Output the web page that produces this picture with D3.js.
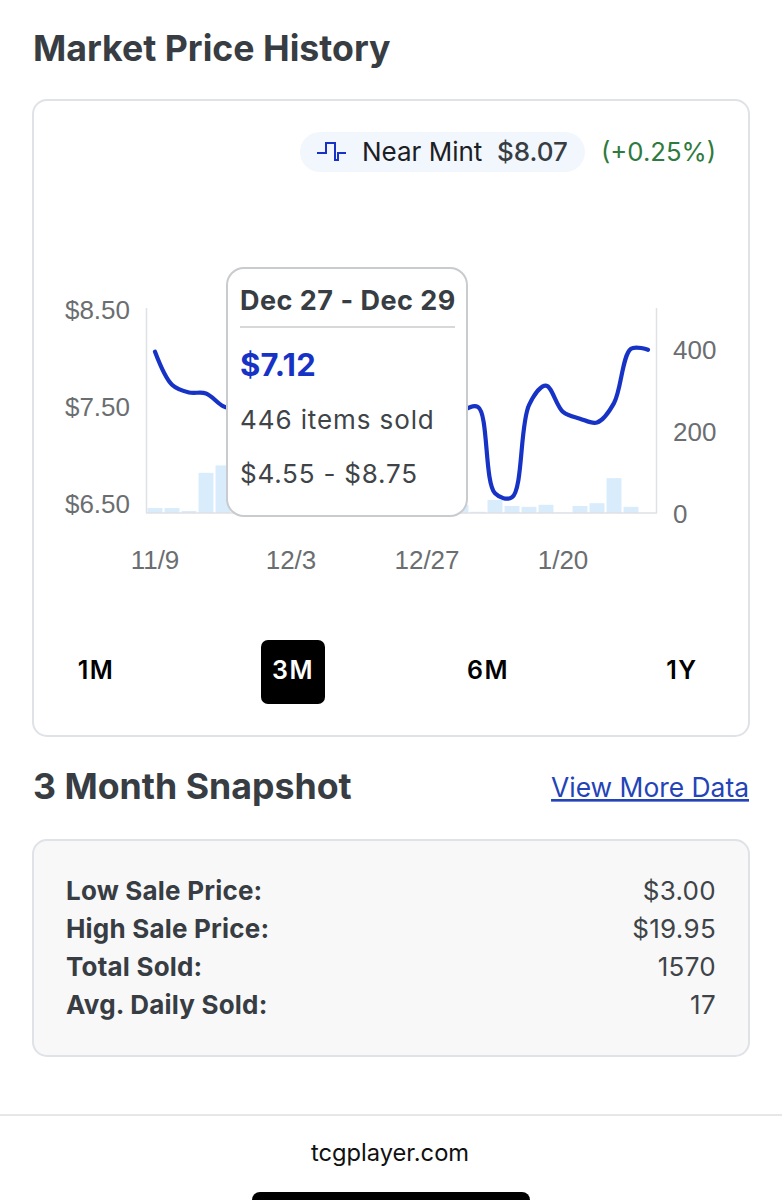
<!DOCTYPE html>
<html>
<head>
<meta charset="utf-8">
<script src="https://cdn.jsdelivr.net/npm/d3@7"></script>
<style>
html, body { margin: 0; padding: 0; background: #fff; }
svg { display: block; }
text { font-family: Inter, "Liberation Sans", sans-serif; }
.axis text { font-family: "Liberation Sans", sans-serif; font-size: 26px; fill: #6b6e71; }
</style>
</head>
<body>
<script>
var width = 782;
var height = 1200;

// 3 day buckets (the ones behind the tooltip are estimates)
var dates = ['11/9','11/12','11/15','11/18','11/21','11/24','11/27','11/30','12/3','12/6',
	'12/9','12/12','12/15','12/18','12/21','12/24','12/27','12/30','1/2','1/5',
	'1/8','1/11','1/14','1/17','1/20','1/23','1/26','1/29','2/1','2/4'];
var prices = [8.07,7.73,7.65,7.64,7.51,7.46,7.42,7.38,7.35,7.30,
	7.28,7.25,7.22,7.20,7.17,7.14,7.12,7.28,7.45,7.50,
	6.61,6.57,7.52,7.72,7.45,7.38,7.34,7.54,8.10,8.09];
var sold = [12,12,5,98,116,70,52,48,40,36,
	44,38,42,30,34,48,446,30,20,3,
	32,17,15,20,1,17,24,85,15,0];
var dateTicks = ['11/9','12/3','12/27','1/20'];
var priceTicks = [6.5,7.5,8.5];
var soldTicks = [0,200,400];
var ranges = ['1M','3M','6M','1Y'];
var snapshotLabels = ['Low Sale Price:','High Sale Price:','Total Sold:','Avg. Daily Sold:'];
var snapshotValues = ['$3.00','$19.95','1570','17'];

var dark = '#373d42';
var blue = '#1733c6';

var svg = d3.select('body').append('svg')
	.attr('width', width)
	.attr('height', height);

function label(x, y, str, size, weight, fill, anchor){
	return svg.append('text')
		.attr('x', x).attr('y', y)
		.attr('font-size', size)
		.attr('font-weight', weight)
		.attr('fill', fill)
		.attr('text-anchor', anchor || 'start')
		.text(str);
}

label(33, 61, 'Market Price History', 35.7, 700, dark);

// chart card
svg.append('rect')
	.attr('x', 33).attr('y', 100).attr('width', 716).attr('height', 636).attr('rx', 14)
	.attr('fill', '#fff').attr('stroke', '#dfe2e6').attr('stroke-width', 2);

// legend pill
svg.append('rect')
	.attr('x', 300).attr('y', 132).attr('width', 285).attr('height', 40).attr('rx', 20)
	.attr('fill', '#f2f7fd');
svg.append('path')
	.attr('d', 'M317,153 H326 V143 H335 V160 H338 V153 H346')
	.attr('fill', 'none').attr('stroke', blue).attr('stroke-width', 2);
label(362, 161, 'Near Mint', 26, 400, '#1c2024');
label(497, 161, '$8.07', 26, 500, dark);
label(601, 161, '(+0.25%)', 25.7, 400, '#2f7a3e');

// scales
var x = d3.scaleBand().domain(dates).range([146.5, 656.5]).paddingInner(0.12).paddingOuter(0.06);
var yPrice = d3.scaleLinear().domain([6.5, 8.5]).range([504, 310]);
var ySold = d3.scaleLinear().domain([0, 400]).range([513, 349]);
var cx = function(d){ return x(d) + x.bandwidth() / 2; };

svg.append('g').selectAll('rect')
	.data(dates)
	.join('rect')
	.attr('x', function(d){ return x(d); })
	.attr('width', x.bandwidth())
	.attr('y', function(d, i){ return ySold(sold[i]); })
	.attr('height', function(d, i){ return ySold(0) - ySold(sold[i]); })
	.attr('fill', '#d9ecfb');

// axes
svg.append('line').attr('x1', 146.5).attr('x2', 146.5).attr('y1', 308).attr('y2', 513).attr('stroke', '#dfe1e4').attr('stroke-width', 1.5);
svg.append('line').attr('x1', 656.5).attr('x2', 656.5).attr('y1', 308).attr('y2', 513).attr('stroke', '#dfe1e4').attr('stroke-width', 1.5);
svg.append('line').attr('x1', 146).attr('x2', 657).attr('y1', 513).attr('y2', 513).attr('stroke', '#dfe1e4').attr('stroke-width', 1.5);

var leftAxis = svg.append('g').attr('class', 'axis')
	.attr('transform', 'translate(130,0)')
	.call(d3.axisLeft(yPrice).tickValues(priceTicks).tickSize(0).tickPadding(0)
		.tickFormat(function(d){ return '$' + d.toFixed(2); }));
var rightAxis = svg.append('g').attr('class', 'axis')
	.attr('transform', 'translate(673,1)')
	.call(d3.axisRight(ySold).tickValues(soldTicks).tickSize(0).tickPadding(0));
var bottomAxis = svg.append('g').attr('class', 'axis')
	.attr('transform', 'translate(0,551)')
	.call(d3.axisBottom(x).tickValues(dateTicks).tickSize(0).tickPadding(0));
leftAxis.select('.domain').remove();
rightAxis.select('.domain').remove();
bottomAxis.select('.domain').remove();

// price line
var line = d3.line()
	.x(function(d){ return cx(d); })
	.y(function(d, i){ return yPrice(prices[i]); })
	.curve(d3.curveCatmullRom.alpha(0.5));
svg.append('path')
	.datum(dates)
	.attr('d', line)
	.attr('fill', 'none')
	.attr('stroke', blue)
	.attr('stroke-width', 4.2)
	.attr('stroke-linecap', 'round');

// tooltip
svg.append('rect')
	.attr('x', 227).attr('y', 268).attr('width', 240).attr('height', 248).attr('rx', 17)
	.attr('fill', '#fff').attr('stroke', '#c9cbce').attr('stroke-width', 2);
label(240, 310, 'Dec 27 - Dec 29', 27, 700, dark).attr('letter-spacing', 0.5);
svg.append('line').attr('x1', 240).attr('x2', 455).attr('y1', 327).attr('y2', 327).attr('stroke', '#c9cbce').attr('stroke-width', 1.5);
label(240, 376, '$' + prices[16].toFixed(2), 31, 700, blue).attr('letter-spacing', 0.2);
label(240, 429, sold[16] + ' items sold', 26, 400, '#3f4448').attr('letter-spacing', 0.9);
label(240, 483, '$4.55 - $8.75', 26, 400, '#3f4448').attr('letter-spacing', 0.8);

// range buttons
svg.append('rect')
	.attr('x', 261).attr('y', 640).attr('width', 64).attr('height', 64).attr('rx', 7)
	.attr('fill', '#000');
var rangeX = [96, 293, 488, 682];
ranges.forEach(function(r, i){
	label(rangeX[i], 679, r, 25, 600, i == 1 ? '#fff' : '#000', 'middle').attr('letter-spacing', 1.5);
});

// snapshot
label(33, 799, '3 Month Snapshot', 35.7, 700, dark);
label(749, 797, 'View More Data', 26.4, 400, '#2443b8', 'end').attr('text-decoration', 'underline');

svg.append('rect')
	.attr('x', 33).attr('y', 840).attr('width', 716).attr('height', 216).attr('rx', 14)
	.attr('fill', '#f8f8f9').attr('stroke', '#dfe2e6').attr('stroke-width', 2);

var rowY = d3.scalePoint().domain(snapshotLabels).range([900, 1014]);
snapshotLabels.forEach(function(d, i){
	label(66, rowY(d), d, 26, 700, dark).attr('letter-spacing', 0.2);
	label(716, rowY(d), snapshotValues[i], 26, 400, '#3f4448', 'end').attr('letter-spacing', 0.3);
});

// footer
svg.append('line').attr('x1', 0).attr('x2', width).attr('y1', 1115).attr('y2', 1115).attr('stroke', '#cfcfd2').attr('stroke-width', 1.2);
label(390, 1161, 'tcgplayer.com', 23.7, 400, '#111', 'middle');
svg.append('rect')
	.attr('x', 252).attr('y', 1192).attr('width', 278).attr('height', 16).attr('rx', 8)
	.attr('fill', '#000');
</script>
</body>
</html>
